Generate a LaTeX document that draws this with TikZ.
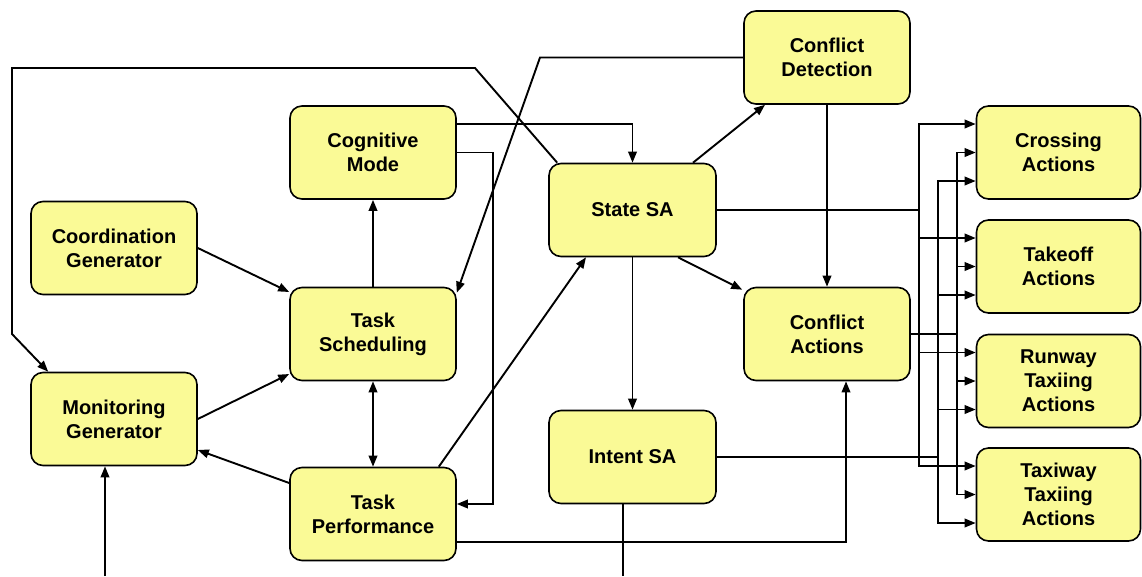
\documentclass[tikz,border=0pt]{standalone}
\usepackage{fontspec}
\setmainfont{Liberation Sans}
\usetikzlibrary{arrows.meta}
\definecolor{boxfill}{HTML}{FAFA96}
\tikzset{
  blk/.style={draw=black, line width=1.6pt, fill=boxfill, rounded corners=12pt,
    minimum width=166pt, minimum height=93pt, inner sep=0pt,
    align=center, font=\fontsize{20}{24}\selectfont\bfseries},
  rblk/.style={blk, minimum width=164pt},
  conn/.style={line width=1.9pt, draw=black},
  arr/.style={conn, -{Triangle[length=11pt,width=8.5pt]}},
  darr/.style={conn, {Triangle[length=11pt,width=8.5pt]}-{Triangle[length=11pt,width=8.5pt]}}
}
\begin{document}
\begin{tikzpicture}[x=1pt,y=-1pt]
\useasboundingbox (0,0) rectangle (1142,576);

\node[blk] (cd)  at (827,57.5)   {Conflict\\Detection};
\node[blk] (cm)  at (373,152.5)  {Cognitive\\Mode};
\node[blk, minimum width=167pt] (ssa) at (632.5,210) {State SA};
\node[blk] (cg)  at (114,248)    {Coordination\\Generator};
\node[blk] (ts)  at (373,334)    {Task\\Scheduling};
\node[blk] (ca)  at (827,334)    {Conflict\\Actions};
\node[blk] (mg)  at (114,419)    {Monitoring\\Generator};
\node[blk, minimum width=167pt] (isa) at (632.5,457) {Intent SA};
\node[blk] (tp)  at (373,514)    {Task\\Performance};

\node[rblk] (cr) at (1058.5,152.5) {Crossing\\Actions};
\node[rblk] (to) at (1058.5,266.5) {Takeoff\\Actions};
\node[rblk] (rw) at (1058.5,381)   {Runway\\Taxiing\\Actions};
\node[rblk] (tw) at (1058.5,494.5) {Taxiway\\Taxiing\\Actions};

% helper coordinates
\coordinate (loopA) at (475,68);
\coordinate (loopB) at (12,68);
\coordinate (loopC) at (12,334);
\coordinate (cdbend) at (540,57.5);
\coordinate (cmbend) at (493,152.5);
\coordinate (mgin) at (105,576);
\coordinate (isaout) at (623,576);
\coordinate (b1) at (919,210);
\coordinate (b2) at (938,457);
\coordinate (b3) at (957,334);

% left loop from State SA to Monitoring Generator
\draw[arr] ([xshift=9pt]ssa.north west) -- (loopA) -- (loopB) -- (loopC) -- ([xshift=18pt]mg.north west);
% Conflict Detection to Task Scheduling
\draw[arr] (cd.west) -- (cdbend) -- ([yshift=-6pt]ts.north east);
% Cognitive Mode to State SA
\draw[arr] ([yshift=28.5pt]cm.east) -| (ssa.north);
% Cognitive Mode to Task Performance
\draw[arr] (cm.east) -- (cmbend) |- ([yshift=10pt]tp.east);
% Task Scheduling to Cognitive Mode
\draw[arr] (ts.north) -- (cm.south);
% Task Scheduling <-> Task Performance
\draw[darr] (ts.south) -- (tp.north);
% Coordination Generator to Task Scheduling
\draw[arr] (cg.east) -- ([yshift=42pt]ts.west);
% Monitoring Generator to Task Scheduling
\draw[arr] (mg.east) -- ([yshift=-40pt]ts.west);
% Task Performance to Monitoring Generator
\draw[arr] ([yshift=31pt]tp.west) -- ([yshift=-31pt]mg.east);
% input from below to Monitoring Generator
\draw[arr] (mgin) -- ([xshift=-9pt]mg.south);
% Task Performance to State SA
\draw[arr] ([xshift=-18pt]tp.north east) -- ([xshift=-46.5pt]ssa.south);
% State SA to Conflict Detection
\draw[arr] ([xshift=60.5pt]ssa.north) -- ([xshift=-62pt]cd.south);
% State SA to Conflict Actions
\draw[arr] ([xshift=45.5pt]ssa.south) -- ([xshift=-1pt,yshift=-3pt]ca.north west);
% Conflict Detection to Conflict Actions
\draw[arr] (cd.south) -- (ca.north);
% State SA to Intent SA
\draw[arr] (ssa.south) -- (isa.north);
% Intent SA downward
\draw[conn] ([xshift=-9.5pt]isa.south) -- (isaout);
% Task Performance to Conflict Actions
\draw[arr] ([yshift=-28pt]tp.east) -| ([xshift=19pt]ca.south);

% buses to the action boxes
\foreach \t in {cr,to,rw,tw}{
  \draw[arr] (ssa.east) -- (b1) |- ([yshift=28.5pt]\t.west);
  \draw[arr] (isa.east) -- (b2) |- ([yshift=-28.5pt]\t.west);
  \draw[arr] (ca.east) -- (b3) |- (\t.west);
}
\end{tikzpicture}
\end{document}
